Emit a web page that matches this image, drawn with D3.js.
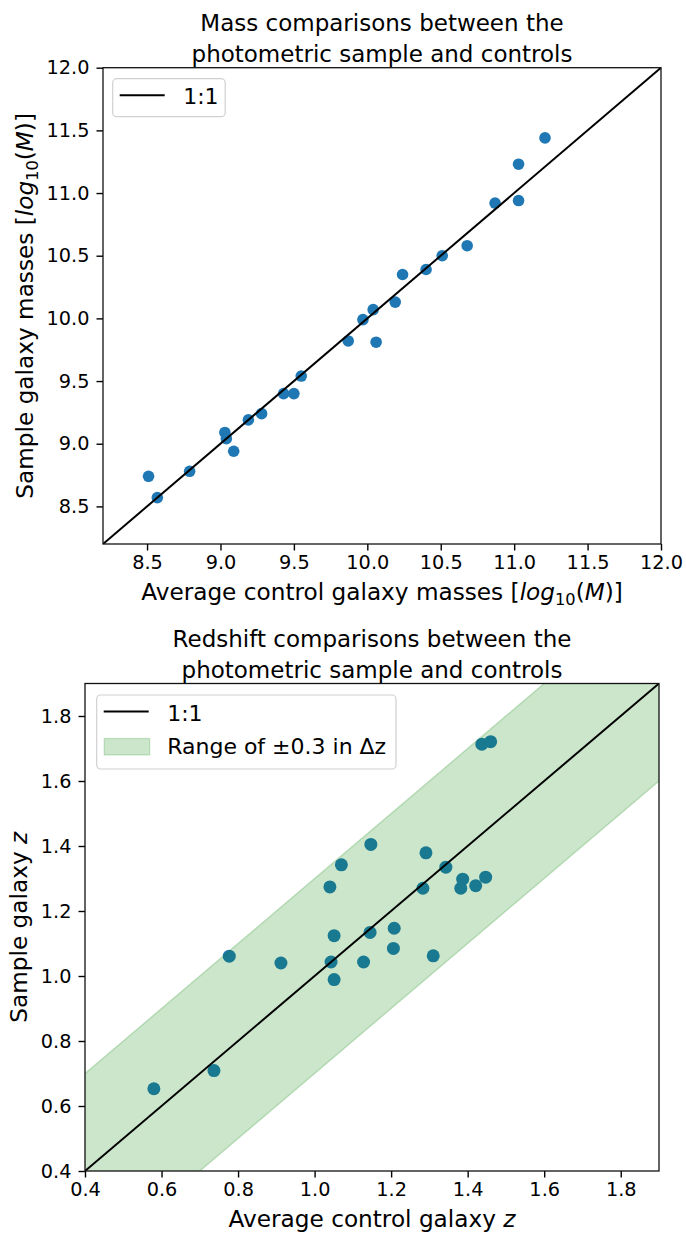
<!DOCTYPE html>
<html>
<head>
<meta charset="utf-8">
<script src="https://cdn.jsdelivr.net/npm/d3@7"></script>
<style>
  html, body { margin: 0; padding: 0; background: #fff; }
  svg text { font-family: "DejaVu Sans", sans-serif; fill: #000; }
</style>
</head>
<body>
<svg id="chart" width="686" height="1235"></svg>
<script>
// ---------- data ----------
const massControl = [8.51, 8.57, 8.79, 9.03, 9.04, 9.09, 9.19, 9.28, 9.43, 9.50, 9.55, 9.87,
                     9.97, 10.04, 10.06, 10.19, 10.24, 10.40, 10.51, 10.68, 10.87, 11.03, 11.03, 11.21];
const massSample  = [8.74, 8.57, 8.78, 9.09, 9.04, 8.94, 9.19, 9.24, 9.40, 9.40, 9.54, 9.82,
                     9.99, 10.07, 9.81, 10.13, 10.35, 10.39, 10.50, 10.58, 10.92, 11.23, 10.94, 11.44];
const massTicks = [8.5, 9.0, 9.5, 10.0, 10.5, 11.0, 11.5, 12.0];
const massDomain = [8.2, 12.0];

const zControl = [0.58, 0.737, 0.777, 0.912, 1.040, 1.043, 1.051, 1.051, 1.070, 1.128, 1.145, 1.147,
                  1.206, 1.208, 1.283, 1.291, 1.310, 1.343, 1.382, 1.387, 1.421, 1.447, 1.437, 1.460];
const zSample  = [0.653, 0.709, 1.061, 1.040, 1.274, 1.043, 1.124, 0.989, 1.342, 1.043, 1.134, 1.405,
                  1.085, 1.147, 1.270, 1.379, 1.062, 1.335, 1.270, 1.298, 1.278, 1.304, 1.713, 1.721];
const zTicks = [0.4, 0.6, 0.8, 1.0, 1.2, 1.4, 1.6, 1.8];
const zDomain = [0.4, 1.9];
const zBand = 0.3;

// ---------- helpers ----------
const svg = d3.select("#chart");
const TICK_FS = 19.3, LABEL_FS = 23.2, TITLE_FS = 23, LEGEND_FS = 22;

function styleAxis(g) {
  g.selectAll(".domain").remove();
  g.selectAll(".tick line").attr("stroke", "#000").attr("stroke-width", 1.4);
  g.selectAll(".tick text").attr("font-size", TICK_FS).attr("font-family", "DejaVu Sans").attr("fill", "#000");
}

function mathLabel(textSel, plain, parts) {
  textSel.append("tspan").text(plain);
  parts.forEach(p => {
    const t = textSel.append("tspan").text(p.t);
    if (p.it) t.attr("font-style", "italic");
    if (p.fs) t.attr("font-size", p.fs);
    if (p.dy) t.attr("dy", p.dy);
  });
}

function drawPanel(cfg) {
  const { left, right, top, bottom } = cfg.box;
  const x = d3.scaleLinear().domain(cfg.domain).range([left, right]);
  const y = d3.scaleLinear().domain(cfg.domain).range([bottom, top]);
  const g = svg.append("g");
  const clipId = "clip" + cfg.id;
  svg.append("clipPath").attr("id", clipId).append("rect")
    .attr("x", left).attr("y", top).attr("width", right - left).attr("height", bottom - top);

  const plot = g.append("g").attr("clip-path", `url(#${clipId})`);

  // points
  plot.selectAll("circle").data(cfg.xs.map((v, i) => [v, cfg.ys[i]])).join("circle")
    .attr("cx", d => x(d[0])).attr("cy", d => y(d[1])).attr("r", cfg.r)
    .attr("fill", "#1f77b4");

  // band
  if (cfg.band) {
    const d0 = cfg.domain[0] - 1, d1 = cfg.domain[1] + 1;
    const pts = [[d0, d0 + cfg.band], [d1, d1 + cfg.band], [d1, d1 - cfg.band], [d0, d0 - cfg.band]];
    plot.append("path")
      .attr("d", d3.line().x(d => x(d[0])).y(d => y(d[1]))(pts) + "Z")
      .attr("fill", "rgba(0,128,0,0.2)")
      .attr("stroke", "rgba(0,128,0,0.2)").attr("stroke-width", 1.5);
  }

  // 1:1 line
  plot.append("line")
    .attr("x1", x(cfg.domain[0])).attr("y1", y(cfg.domain[0]))
    .attr("x2", x(cfg.domain[1])).attr("y2", y(cfg.domain[1]))
    .attr("stroke", "#000").attr("stroke-width", 2);

  // axes
  const fmt = d3.format(".1f");
  g.append("g").attr("transform", `translate(0,${bottom})`)
    .call(d3.axisBottom(x).tickValues(cfg.ticks).tickFormat(fmt).tickSize(6.5).tickPadding(5))
    .call(styleAxis);
  g.append("g").attr("transform", `translate(${left},0)`)
    .call(d3.axisLeft(y).tickValues(cfg.ticks).tickFormat(fmt).tickSize(6.5).tickPadding(7))
    .call(styleAxis);

  // frame
  g.append("rect").attr("x", left).attr("y", top).attr("width", right - left).attr("height", bottom - top)
    .attr("fill", "none").attr("stroke", "#111").attr("stroke-width", 1.3);

  // title
  const cx = (left + right) / 2;
  const t = g.append("text").attr("text-anchor", "middle").attr("font-size", TITLE_FS);
  t.append("tspan").attr("x", cx).attr("y", cfg.titleY[0]).text(cfg.title[0]);
  t.append("tspan").attr("x", cx).attr("y", cfg.titleY[1]).text(cfg.title[1]);

  // x label
  const xl = g.append("text").attr("text-anchor", "middle").attr("font-size", LABEL_FS)
    .attr("x", cx).attr("y", cfg.xLabelY);
  mathLabel(xl, cfg.xLabel[0], cfg.xLabel[1]);

  // y label
  const cy = (top + bottom) / 2;
  const yl = g.append("text").attr("text-anchor", "middle").attr("font-size", LABEL_FS)
    .attr("transform", `translate(${cfg.yLabelX},${cy}) rotate(-90)`);
  mathLabel(yl, cfg.yLabel[0], cfg.yLabel[1]);

  // legend
  const L = cfg.legend;
  const lg = g.append("g");
  lg.append("rect").attr("x", L.x).attr("y", L.y).attr("width", L.w).attr("height", L.h)
    .attr("rx", 4).attr("fill", "rgba(255,255,255,0.8)").attr("stroke", "#d0d0d0").attr("stroke-width", 1.2);
  lg.append("line").attr("x1", L.x + 7).attr("x2", L.x + 52).attr("y1", L.y + 16.5).attr("y2", L.y + 16.5)
    .attr("stroke", "#000").attr("stroke-width", 2);
  lg.append("text").attr("x", L.x + 70.5).attr("y", L.y + 25.5).attr("font-size", LEGEND_FS).text("1:1");
  if (cfg.band) {
    lg.append("rect").attr("x", L.x + 7.5).attr("y", L.y + 43.5).attr("width", 45.5).attr("height", 16.5)
      .attr("fill", "rgba(0,128,0,0.2)").attr("stroke", "rgba(0,128,0,0.2)").attr("stroke-width", 1.2);
    lg.append("text").attr("x", L.x + 70.5).attr("y", L.y + 58.5).attr("font-size", LEGEND_FS)
      .text("Range of \u00B10.3 in \u0394z");
  }
}

const logParts = [
  { t: "log", it: true },
  { t: "10", fs: "70%", dy: 5 },
  { t: "(", dy: -5 },
  { t: "M", it: true },
  { t: ")]" }
];

drawPanel({
  id: "mass",
  box: { left: 103, right: 661, top: 67.7, bottom: 544 },
  domain: massDomain, ticks: massTicks,
  xs: massControl, ys: massSample, r: 5.8,
  title: ["Mass comparisons between the", "photometric sample and controls"],
  titleY: [30.7, 61.7],
  xLabel: ["Average control galaxy masses [", logParts],
  yLabel: ["Sample galaxy masses [", logParts],
  xLabelY: 600, yLabelX: 33,
  legend: { x: 112.7, y: 78.7, w: 112.5, h: 38 }
});

drawPanel({
  id: "z",
  box: { left: 85, right: 659, top: 683.5, bottom: 1171 },
  domain: zDomain, ticks: zTicks,
  xs: zControl, ys: zSample, r: 6.5, band: zBand,
  title: ["Redshift comparisons between the", "photometric sample and controls"],
  titleY: [647, 677.5],
  xLabel: ["Average control galaxy ", [{ t: "z", it: true }]],
  yLabel: ["Sample galaxy ", [{ t: "z", it: true }]],
  xLabelY: 1227, yLabelX: 27,
  legend: { x: 96.7, y: 695, w: 299.3, h: 74 }
});
</script>
</body>
</html>
